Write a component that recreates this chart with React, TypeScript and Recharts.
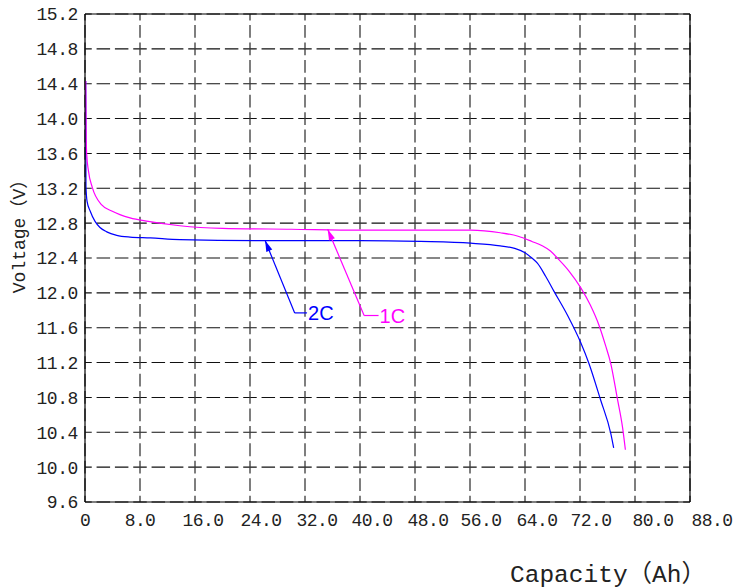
import React from "react";
import {
  LineChart,
  Line,
  XAxis,
  YAxis,
  CartesianGrid,
  ReferenceLine,
  Label,
} from "recharts";

// discharge curves: capacity (Ah) vs voltage (V)
const CAP_1C = [0.1, 0.13, 0.17, 0.25, 0.5, 1.06, 2.43, 3.89, 6.55, 9.2, 13.8, 20, 30, 40, 48.8, 56.1, 60.4, 63.0, 65.0, 66.5, 67.7, 68.7, 70.4, 72.1, 73.5, 74.8, 75.7, 76.5, 77.4, 78.2, 78.6];
const VOLT_1C = [14.43, 14.16, 13.78, 13.59, 13.4, 13.21, 13.01, 12.94, 12.86, 12.82, 12.77, 12.74, 12.73, 12.72, 12.72, 12.72, 12.69, 12.65, 12.59, 12.54, 12.48, 12.4, 12.25, 12.06, 11.86, 11.62, 11.4, 11.18, 10.8, 10.45, 10.2];

const CAP_2C = [0.1, 0.14, 0.3, 0.75, 1.46, 2.18, 3.16, 4.62, 6.55, 9.5, 13.8, 25, 40, 48.8, 56.1, 60.4, 62.5, 64.0, 65.0, 65.8, 67.0, 68.2, 70.2, 72.1, 73.3, 75.0, 76.5, 76.9];
const VOLT_2C = [14.43, 13.22, 13.05, 12.94, 12.82, 12.75, 12.7, 12.66, 12.64, 12.63, 12.61, 12.6, 12.6, 12.59, 12.57, 12.54, 12.51, 12.46, 12.4, 12.34, 12.19, 12.02, 11.74, 11.43, 11.19, 10.77, 10.38, 10.22];

const X_TICKS = [0, 8, 16, 24, 32, 40, 48, 56, 64, 72, 80, 88];
const Y_TICKS = [9.6, 10.0, 10.4, 10.8, 11.2, 11.6, 12.0, 12.4, 12.8, 13.2, 13.6, 14.0, 14.4, 14.8, 15.2];

// callouts: label, arrow tip, bend, end of the short horizontal leg
const CALLOUT_LABELS = ["2C", "1C"];
const CALLOUT_TIP_X = [26.2, 35.3];
const CALLOUT_TIP_Y = [12.6, 12.73];
const CALLOUT_BEND_X = [30.5, 40.6];
const CALLOUT_BEND_Y = [11.77, 11.74];
const CALLOUT_END_X = [32.3, 42.7];

const BLUE = "#0000ff";
const MAGENTA = "#ff00ff";
const CALLOUT_COLORS = [BLUE, MAGENTA];
const MONO = "'Liberation Mono', 'Noto Sans CJK SC', monospace";

// the original's x labels drift slightly right of their grid lines
const X_LABEL_NUDGE = [0, 0, 8, 11, 12, 12, 13, 11, 12, 11, 18, 22];

const data1C = CAP_1C.map((x, i) => ({ x, v: VOLT_1C[i] }));
const data2C = CAP_2C.map((x, i) => ({ x, v: VOLT_2C[i] }));

const XTick = (props: any) => {
  const { x, y, payload, index } = props;
  const v = payload.value as number;
  return (
    <text
      x={x + (X_LABEL_NUDGE[index] ?? 0)}
      y={y}
      dy="0.71em"
      textAnchor="middle"
      fill="#222"
      fontFamily={MONO}
      fontSize={18}
      letterSpacing={-0.6}
    >
      {v === 0 ? "0" : v.toFixed(1)}
    </text>
  );
};

const arrowShape = (color: string) => (p: any) => {
  const { x1, y1, x2, y2 } = p;
  const ang = Math.atan2(y2 - y1, x2 - x1);
  const len = 11;
  const w = 3.2;
  const bx = x1 + len * Math.cos(ang);
  const by = y1 + len * Math.sin(ang);
  const nx = -Math.sin(ang) * w;
  const ny = Math.cos(ang) * w;
  return (
    <g>
      <line x1={x1} y1={y1} x2={x2} y2={y2} stroke={color} strokeWidth={1.2} />
      <polygon points={`${x1},${y1} ${bx + nx},${by + ny} ${bx - nx},${by - ny}`} fill={color} />
    </g>
  );
};

const legShape = (color: string, text: string) => (p: any) => {
  const { x1, y1, x2, y2 } = p;
  return (
    <g>
      <line x1={x1} y1={y1} x2={x2} y2={y2} stroke={color} strokeWidth={1.2} />
      <text
        x={x2 + 1}
        y={y2}
        dy="0.36em"
        fill={color}
        fontFamily="'Liberation Sans', sans-serif"
        fontSize={20}
      >
        {text}
      </text>
    </g>
  );
};

export default function App() {
  return (
    <div style={{ position: "absolute", left: 0, top: 0, width: 752, height: 588, background: "#fff" }}>
      <LineChart width={752} height={588} margin={{ top: 14, right: 62, left: 0, bottom: 0 }}>
        <CartesianGrid
          horizontal
          vertical={false}
          stroke="#111"
          strokeWidth={1.1}
          strokeDasharray="13.5 4.83"
          strokeDashoffset={6.75}
        />
        <CartesianGrid
          horizontal={false}
          vertical
          stroke="#3a3a3a"
          strokeWidth={1.3}
          strokeDasharray="12.8 4.63"
          strokeDashoffset={6.4}
        />
        <XAxis
          type="number"
          dataKey="x"
          domain={[0, 88]}
          ticks={X_TICKS}
          interval={0}
          height={86}
          allowDataOverflow
          axisLine={{ stroke: "#000", strokeWidth: 1.2 }}
          tickLine={false}
          tickMargin={5}
          tick={XTick}
        >
          <Label
            content={() => (
              <text x={510} y={582} fill="#222" fontFamily={MONO} fontSize={24.5}>
                Capacity（Ah）
              </text>
            )}
          />
        </XAxis>
        <YAxis
          type="number"
          domain={[9.6, 15.2]}
          ticks={Y_TICKS}
          interval={0}
          width={85}
          allowDataOverflow
          axisLine={{ stroke: "#000", strokeWidth: 1.2 }}
          tickLine={false}
          tickMargin={1}
          tickFormatter={(v: number) => v.toFixed(1)}
          tick={{ fill: "#222", fontFamily: MONO, fontSize: 18, letterSpacing: -0.4 }}
        >
          <Label
            content={() => (
              <text
                x={20}
                y={232}
                transform="rotate(-90 20 232)"
                textAnchor="middle"
                dominantBaseline="central"
                fill="#222"
                fontFamily={MONO}
                fontSize={18}
              >
                Voltage（V）
              </text>
            )}
          />
        </YAxis>
        <ReferenceLine y={15.2} stroke="#000" strokeWidth={1.2} />
        <ReferenceLine x={88} stroke="#000" strokeWidth={1.2} />

        <Line
          data={data2C}
          dataKey="v"
          type="monotone"
          stroke={BLUE}
          strokeWidth={1.2}
          dot={false}
          activeDot={false}
          isAnimationActive={false}
        />
        <Line
          data={data1C}
          dataKey="v"
          type="monotone"
          stroke={MAGENTA}
          strokeWidth={1.2}
          dot={false}
          activeDot={false}
          isAnimationActive={false}
        />

        {CALLOUT_LABELS.map((lab, i) => (
          <ReferenceLine
            key={`arrow-${lab}`}
            segment={[
              { x: CALLOUT_TIP_X[i], y: CALLOUT_TIP_Y[i] },
              { x: CALLOUT_BEND_X[i], y: CALLOUT_BEND_Y[i] },
            ]}
            shape={arrowShape(CALLOUT_COLORS[i])}
          />
        ))}
        {CALLOUT_LABELS.map((lab, i) => (
          <ReferenceLine
            key={`leg-${lab}`}
            segment={[
              { x: CALLOUT_BEND_X[i], y: CALLOUT_BEND_Y[i] },
              { x: CALLOUT_END_X[i], y: CALLOUT_BEND_Y[i] },
            ]}
            shape={legShape(CALLOUT_COLORS[i], lab)}
          />
        ))}
      </LineChart>
    </div>
  );
}
